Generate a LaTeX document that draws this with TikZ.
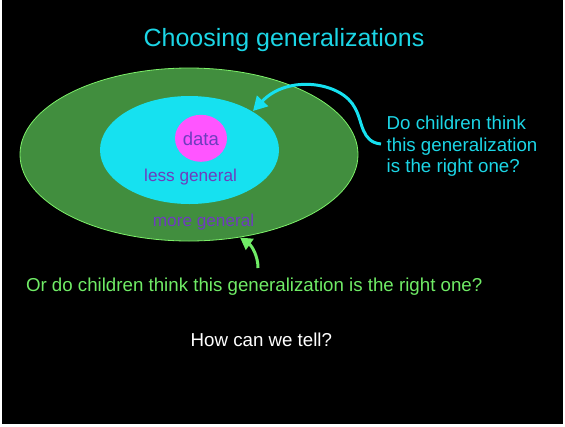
\documentclass[tikz,border=0pt]{standalone}
\usepackage{fontspec}
\setmainfont{Liberation Sans}
\usetikzlibrary{shapes.geometric,arrows.meta}
\definecolor{cytext}{RGB}{28,214,230}
\definecolor{cyfill}{RGB}{22,225,240}
\definecolor{gfill}{RGB}{65,142,62}
\definecolor{gedge}{RGB}{125,240,105}
\definecolor{gtext}{RGB}{112,236,102}
\definecolor{purp}{RGB}{110,60,190}
\definecolor{mag}{RGB}{255,85,255}
\begin{document}
\begin{tikzpicture}[x=1pt,y=-1pt,
  txt/.style={inner sep=0pt, anchor=base west},
  big/.style={font=\fontsize{18.7}{22}\selectfont},
  lab/.style={txt, text=purp, font=\fontsize{17.2}{20}\selectfont},
  blob/.style={ellipse, inner sep=0pt},
  cyarrow/.style={draw=cyfill, line width=3pt, -{Triangle[length=14pt,width=15pt]}},
  grarrow/.style={draw=gtext, line width=3pt, -{Triangle[length=12pt,width=13pt]}}]
\useasboundingbox (0,0) rectangle (565,426);
\fill[white] (0,0) rectangle (565,426);
\fill[black] (1.5,0) rectangle (563,424);
% title
\node[inner sep=0pt, anchor=base, text=cytext, font=\fontsize{25}{30}\selectfont] (title) at (284,46) {Choosing generalizations};
% ellipses
\node[blob, draw=gedge, line width=0.8pt, fill=gfill, minimum width=338pt, minimum height=173pt] (outer) at (189,154.5) {};
\node[blob, fill=cyfill, minimum width=179pt, minimum height=108pt] (inner) at (189.5,150) {};
\node[blob, fill=mag, minimum width=52pt, minimum height=47pt] (data) at (201,138.3) {};
% labels
\node[lab, font=\fontsize{18.5}{22}\selectfont] (datatxt) at (182.7,145) {data};
\node[lab] (less) at (144,181) {less general};
\node[lab] (more) at (152.7,226.7) {more general};
% cyan question
\node[txt, big, text=cytext] (q1a) at (386.5,129) {Do children think};
\node[txt, big, text=cytext] (q1b) at (386.5,151) {this generalization};
\node[txt, big, text=cytext] (q1c) at (386.5,172.7) {is the right one?};
% green question
\node[txt, big, text=gtext] (q2) at (25.8,291) {Or do children think this generalization is the right one?};
% white
\node[txt, big, text=white] (how) at (190.5,346) {How can we tell?};
% arrows
\coordinate (cstart) at (381,144);
\coordinate (ctip) at (253,111);
\draw[cyarrow] (cstart) .. controls (361,142) and (363,122) .. (355,108)
  .. controls (342,82) and (288,74) .. (ctip);
\coordinate (gstart) at (258,268);
\coordinate (gtip) at (240,237.5);
\draw[grarrow] (gstart) .. controls (258,256) and (252,246) .. (gtip);
\end{tikzpicture}
\end{document}
